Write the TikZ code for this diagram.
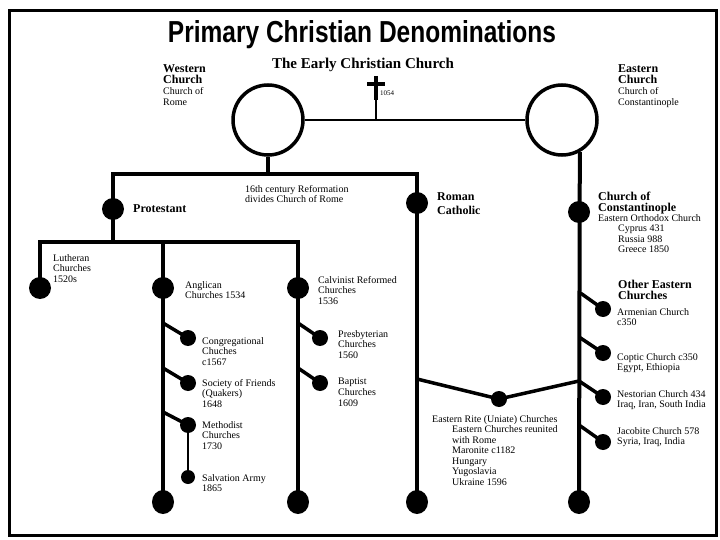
\documentclass[tikz,border=0pt]{standalone}
\usepackage{fontspec}
\setmainfont{Liberation Serif}
\newfontfamily\titlefont{Liberation Sans}
\usetikzlibrary{shapes.geometric}
\begin{document}
\begin{tikzpicture}[x=1pt,y=-1pt,
  bigdot/.style={circle,fill=black,inner sep=0,minimum size=22pt},
  midot/.style={circle,fill=black,inner sep=0,minimum size=16pt},
  smdot/.style={circle,fill=black,inner sep=0,minimum size=14pt},
  enddot/.style={ellipse,fill=black,inner sep=0,minimum width=22pt,minimum height=24pt},
  ring/.style={circle,draw=black,line width=3.5pt,inner sep=0,minimum size=70pt},
  trunk/.style={line width=4pt,line join=miter},
  twig/.style={line width=3.5pt},
  thinline/.style={line width=1.5pt},
  lbl/.style={anchor=north west,inner sep=0,align=left,font=\fontsize{10}{10.6}\selectfont},
  blbl/.style={anchor=north west,inner sep=0,align=left,font=\fontsize{12}{11}\selectfont\bfseries},
]
\useasboundingbox (0,0) rectangle (720,540);
\draw[line width=3pt] (9,11) rectangle (716,535);

% title
\node[anchor=base,inner sep=0] (title) at (362,43)
  {\resizebox{388pt}{22pt}{\titlefont\bfseries Primary Christian Denominations}};

% early church
\node[inner sep=0,font=\fontsize{15}{15}\selectfont\bfseries] (early) at (363,65) {The Early Christian Church};
\node[lbl,font=\fontsize{10}{11}\selectfont] (western) at (163,64) {{\fontsize{12}{11}\selectfont\bfseries Western}\\{\fontsize{12}{11}\selectfont\bfseries Church}\\Church of\\Rome};
\node[lbl,font=\fontsize{10}{11}\selectfont] (eastern) at (618,64) {{\fontsize{12}{11}\selectfont\bfseries Eastern}\\{\fontsize{12}{11}\selectfont\bfseries Church}\\Church of\\Constantinople};

\node[ring] (west) at (268,120) {};
\node[ring] (east) at (562,120) {};

% cross
\draw[line width=4pt] (376,76) -- (376,100);
\draw[line width=3.5pt] (367,84) -- (385,84);
\coordinate (crossfoot) at (376,100);
\coordinate (crossjoin) at (376,120);
\node[anchor=west,inner sep=0,font=\fontsize{7}{7}\selectfont] (schism) at (380,93) {1054};
\draw[thinline] (crossfoot) -- (crossjoin);
\draw[line width=2pt] (west.east) -- (east.west);

% western trunk
\coordinate (wj) at (268,174);
\coordinate (pc) at (113,174);
\coordinate (rcc) at (417,174);
\node[bigdot] (prot) at (113,209) {};
\node[bigdot] (rc) at (417,203) {};
\node[enddot] (rcend) at (417,502) {};
\draw[trunk] (west.south) -- (wj);
\draw[trunk] (prot.center) -- (pc) -- (rcc) -- (rcend.center);

\node[blbl,anchor=west] (protl) at (133,209) {Protestant};
\node[lbl] (reform) at (245,185) {16th century Reformation\\divides Church of Rome};
\node[blbl,font=\fontsize{12}{14}\selectfont\bfseries] (rcl) at (437,192) {Roman\\Catholic};

% protestant branches
\coordinate (pj) at (113,242);
\coordinate (lj) at (40,242);
\coordinate (aj) at (163,242);
\coordinate (cj) at (298,242);
\node[bigdot] (luth) at (40,288) {};
\node[bigdot] (angl) at (163,288) {};
\node[bigdot] (calv) at (298,288) {};
\node[enddot] (anglend) at (163,502) {};
\node[enddot] (calvend) at (298,502) {};
\draw[trunk] (prot.center) -- (pj);
\draw[trunk] (luth.center) -- (lj) -- (cj) -- (calvend.center);
\draw[trunk] (aj) -- (anglend.center);

\node[lbl] (luthl) at (53,254) {Lutheran\\Churches\\1520s};
\node[lbl] (angll) at (185,281) {Anglican\\Churches 1534};
\node[lbl] (calvl) at (318,276) {Calvinist Reformed\\Churches\\1536};

% anglican twigs
\coordinate (a1) at (163,323);
\coordinate (a2) at (163,368);
\coordinate (a3) at (163,412);
\node[midot] (cong) at (188,338) {};
\node[midot] (soc) at (188,383) {};
\node[midot] (meth) at (188,425) {};
\node[smdot] (salv) at (188,477) {};
\draw[twig] (a1) -- (cong.center);
\draw[twig] (a2) -- (soc.center);
\draw[twig] (a3) -- (meth.center);
\draw[thinline] (meth) -- (salv);
\node[lbl] (congl) at (202,337) {Congregational\\Chuches\\c1567};
\node[lbl] (socl) at (202,379) {Society of Friends\\(Quakers)\\1648};
\node[lbl] (methl) at (202,421) {Methodist\\Churches\\1730};
\node[lbl] (salvl) at (202,474) {Salvation Army\\1865};

% calvinist twigs
\coordinate (c1) at (298,323);
\coordinate (c2) at (298,368);
\node[midot] (pres) at (320,338) {};
\node[midot] (bap) at (320,383) {};
\draw[twig] (c1) -- (pres.center);
\draw[twig] (c2) -- (bap.center);
\node[lbl] (presl) at (338,330) {Presbyterian\\Churches\\1560};
\node[lbl] (bapl) at (338,378) {Baptist\\Churches\\1609};

% eastern trunk
\node[bigdot] (const) at (579,212) {};
\node[enddot] (eastend) at (579,502) {};
\draw[trunk] (east.-61) -- (eastend.center);
\node[blbl] (constl) at (598,192) {Church of\\Constantinople};
\node[lbl] (orth) at (598,214) {Eastern Orthodox Church};
\node[lbl,font=\fontsize{10}{10.3}\selectfont] (orthl) at (618,225) {Cyprus 431\\Russia 988\\Greece 1850};
\node[blbl] (other) at (618,280) {Other Eastern\\Churches};

\coordinate (e1) at (579,292);
\coordinate (e2) at (579,337);
\coordinate (e3) at (579,381);
\coordinate (e4) at (579,425);
\node[midot] (arm) at (603,309) {};
\node[midot] (copt) at (603,353) {};
\node[midot] (nest) at (603,397) {};
\node[midot] (jac) at (603,442) {};
\draw[twig] (e1) -- (arm.center);
\draw[twig] (e2) -- (copt.center);
\draw[twig] (e3) -- (nest.center);
\draw[twig] (e4) -- (jac.center);
\node[lbl] (arml) at (617,308) {Armenian Church\\c350};
\node[lbl] (coptl) at (617,353) {Coptic Church c350\\Egypt, Ethiopia};
\node[lbl] (nestl) at (617,390) {Nestorian Church 434\\Iraq, Iran, South India};
\node[lbl] (jacl) at (617,427) {Jacobite Church 578\\Syria, Iraq, India};

% uniate
\coordinate (r1) at (417,379);
\node[midot] (uni) at (499,399) {};
\draw[twig] (r1) -- (uni.center) -- (e3);
\node[lbl,font=\fontsize{10}{10.5}\selectfont] (unil) at (432,415) {Eastern Rite (Uniate) Churches\\
  \hspace*{20pt}Eastern Churches reunited\\
  \hspace*{20pt}with Rome\\
  \hspace*{20pt}Maronite c1182\\
  \hspace*{20pt}Hungary\\
  \hspace*{20pt}Yugoslavia\\
  \hspace*{20pt}Ukraine 1596};
\end{tikzpicture}
\end{document}
